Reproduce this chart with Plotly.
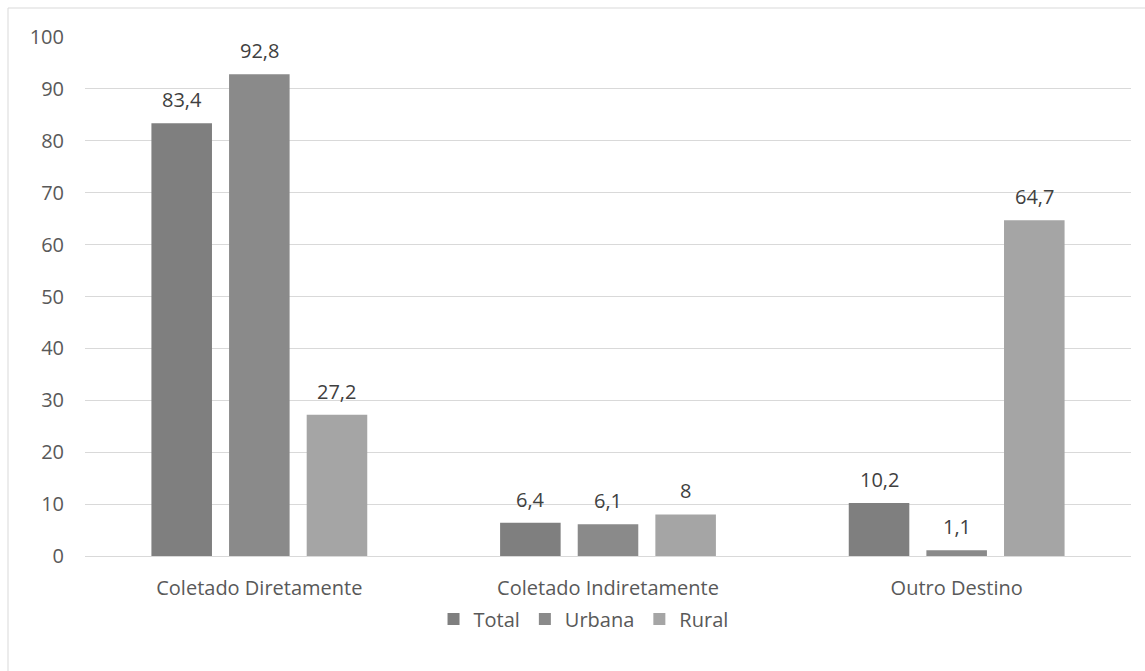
import plotly.graph_objects as go

categories = ["Coletado Diretamente", "Coletado Indiretamente", "Outro Destino"]
series_names = ["Total", "Urbana", "Rural"]
total = [83.4, 6.4, 10.2]
urbana = [92.8, 6.1, 1.1]
rural = [27.2, 8, 64.7]
colors = ["#7f7f7f", "#8a8a8a", "#a5a5a5"]
y_ticks = [0, 10, 20, 30, 40, 50, 60, 70, 80, 90, 100]

FONT = "'Open Sans', sans-serif"
FS = 20

def fmt(v):
    s = ("%g" % v)
    return s.replace(".", ",")

fig = go.Figure()
all_series = [total, urbana, rural]
for name, vals, col in zip(series_names, all_series, colors):
    fig.add_trace(go.Bar(
        name=name, x=categories, y=vals, marker=dict(color=col, line=dict(width=0)),
    ))

# data labels
slot = (1 - 0.332) / 3
annotations = []
for si, vals in enumerate(all_series):
    off = (si - 1) * slot
    for ci, v in enumerate(vals):
        annotations.append(dict(
            x=ci + off, y=v, xref="x", yref="y", text=fmt(v), showarrow=False,
            yanchor="bottom", yshift=8, font=dict(family=FONT, size=FS, color="#404040"),
        ))

L, R, T, B = 85, 14, 37, 115
W, H = 1145, 671
pw, ph = W - L - R, H - T - B
fig.add_shape(type="rect", xref="paper", yref="paper",
              x0=(8 - L) / pw, x1=(W + 40 - L) / pw,
              y0=-(H + 40 - T - ph) / ph, y1=(ph + T - 8) / ph,
              line=dict(color="#d9d9d9", width=1), fillcolor="rgba(0,0,0,0)", layer="below")

fig.update_layout(
    width=W, height=H,
    margin=dict(l=L, r=R, t=T, b=B),
    paper_bgcolor="white", plot_bgcolor="white",
    barmode="group", bargap=0.332, bargroupgap=0.22,
    annotations=annotations,
    font=dict(family=FONT, size=FS, color="#595959"),
    showlegend=True,
    legend=dict(orientation="h", x=0.4766, xanchor="center", y=-0.084, yanchor="top",
                font=dict(family=FONT, size=FS, color="#595959"), itemwidth=30,
                traceorder="normal"),
    xaxis=dict(showgrid=False, showline=True, linecolor="#d9d9d9", linewidth=1,
               ticks="", ticklabelstandoff=14,
               tickfont=dict(family=FONT, size=FS, color="#595959")),
    yaxis=dict(range=[0, 100], tickvals=y_ticks, showgrid=True, gridcolor="#d9d9d9",
               gridwidth=1, zeroline=False, showline=False, ticks="",
               ticklabelstandoff=20,
               tickfont=dict(family=FONT, size=FS, color="#595959")),
)

fig.write_html("out.html")
